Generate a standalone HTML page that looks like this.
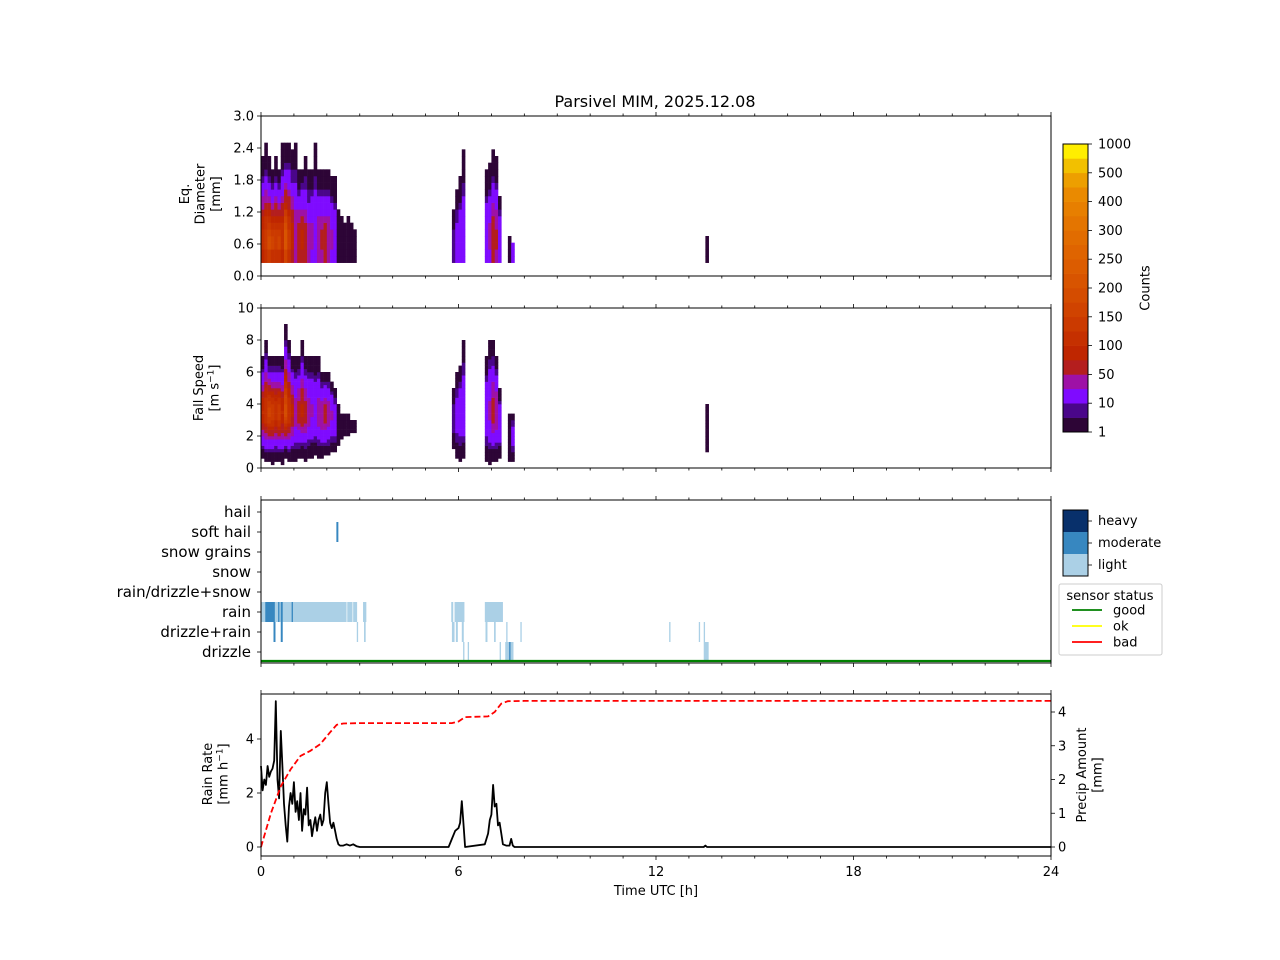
<!DOCTYPE html>
<html><head><meta charset="utf-8"><style>
html,body{margin:0;padding:0;background:#fff}
svg{display:block;font-family:"DejaVu Sans","Liberation Sans",sans-serif}
</style></head><body>
<svg id="fig" width="1280" height="960" viewBox="0 0 1280 960">
<rect width="1280" height="960" fill="#fff"/>
<text x="655" y="107" font-size="16" text-anchor="middle">Parsivel MIM, 2025.12.08</text>
</svg>
<script>
// ---------- data ----------
const colTimes = [0.0,0.1,0.2,0.3,0.4,0.5,0.6,0.7,0.8,0.9,1.0,1.1,1.2,1.3,1.4,1.5,1.6,1.7,1.8,1.9,2.0,2.1,2.2,2.3,2.4,2.5,2.6,2.7,2.8,5.8,5.9,6.0,6.1,6.8,6.9,7.0,7.1,7.2,7.5,7.6,13.5];
const colPeak  = [250,300,400,350,300,350,250,450,300,200,100,150,200,150,100,80,60,100,120,150,100,80,60,10,5,8,3,5,3,20,40,50,60,60,80,150,120,60,10,40,5];
const colMaxD  = [2.2,2.4,2.2,2.0,2.2,2.0,2.4,2.5,2.5,2.3,2.4,2.0,2.0,2.2,1.9,2.0,2.4,2.0,2.0,1.9,2.0,1.8,1.8,1.2,1.1,1.0,1.1,1.0,0.8,1.2,1.6,1.8,2.3,1.9,2.1,2.3,2.2,1.5,0.7,0.6,0.7];
const colMaxV  = [7,8,7,7,7,7,7,9,8,7,7,7,8,7,7,7,7,7,6,6,6,5.5,5,4,3.5,3.5,3.5,3,3,5,6,6.5,8,7,8,8,7,5,3.5,3.5,4];
const colMinV  = [0.6,0.4,0.5,0.3,0.5,0.4,0.3,0.6,0.4,0.5,0.5,0.6,0.7,0.5,0.6,0.7,0.8,0.6,0.7,0.8,0.8,1.0,1.0,1.5,1.8,2.0,2.0,2.2,2.3,1.2,0.6,0.4,0.6,0.5,0.3,0.4,0.5,0.6,0.5,0.4,1.0];
const cbLevels = [1,10,50,100,150,200,250,300,400,500,1000];
const categories = ['drizzle','drizzle+rain','rain','rain/drizzle+snow','snow','snow grains','soft hail','hail'];
// [category index, start h, end h, intensity 1=light 2=moderate 3=heavy]
const precipSegments = [
 [2,0.0,2.6,1],[2,2.62,2.78,1],[2,2.8,2.92,1],[2,3.1,3.2,1],
 [2,0.13,0.42,2],[2,0.52,0.56,2],[2,0.6,0.66,2],[2,0.93,0.97,2],
 [1,0.38,0.44,2],[1,0.6,0.66,2],[1,2.91,2.95,1],[1,3.13,3.18,1],
 [2,5.78,5.84,1],[2,5.88,6.18,1],[2,6.8,7.35,1],
 [1,5.8,5.88,1],[1,5.92,5.98,1],[1,6.1,6.16,1],[1,6.82,6.88,1],[1,7.08,7.13,1],[1,7.45,7.49,1],[1,7.88,7.92,1],[1,12.4,12.44,1],[1,13.3,13.34,1],[1,13.45,13.49,1],
 [0,6.14,6.18,1],[0,6.28,6.32,1],[0,7.25,7.29,1],[0,7.42,7.67,1],[0,7.54,7.58,2],[0,13.45,13.6,1],
 [6,2.29,2.35,2]
];
const rateTimes = [0,0.05,0.1,0.15,0.2,0.25,0.3,0.35,0.4,0.45,0.5,0.55,0.6,0.65,0.7,0.75,0.8,0.85,0.9,0.95,1.0,1.05,1.1,1.15,1.2,1.25,1.3,1.35,1.4,1.45,1.5,1.55,1.6,1.65,1.7,1.75,1.8,1.85,1.9,1.95,2.0,2.05,2.1,2.15,2.2,2.25,2.3,2.35,2.4,2.5,2.6,2.7,2.8,2.9,3.0,5.7,5.8,5.9,6.0,6.05,6.1,6.15,6.2,6.8,6.9,6.95,7.0,7.05,7.1,7.15,7.2,7.25,7.3,7.35,7.45,7.55,7.6,7.65,7.7,13.45,13.5,13.55,24];
const rateVals  = [3.0,2.1,2.5,2.3,3.0,2.6,2.8,2.9,3.2,5.4,2.5,1.8,4.3,3.0,1.6,0.8,0.2,1.5,2.0,1.6,2.4,1.3,1.7,1.0,2.0,0.6,1.4,1.2,2.2,0.8,1.0,0.4,0.8,1.1,0.6,1.0,1.2,0.8,1.0,2.0,2.4,1.6,0.9,0.7,0.9,0.6,0.3,0.1,0.05,0.05,0.1,0.05,0.1,0.03,0,0,0.3,0.6,0.7,0.9,1.7,0.9,0,0.1,0.5,1.0,1.2,2.3,1.5,1.6,0.8,0.9,0.5,0.1,0.05,0.05,0.3,0.05,0,0,0.05,0,0];
const amtTimes = [0,0.3,0.6,0.9,1.2,1.5,1.8,2.1,2.3,2.5,3.0,5.8,6.0,6.2,6.9,7.1,7.3,7.5,8,24];
const amtVals  = [0,1.0,1.8,2.3,2.7,2.85,3.05,3.4,3.62,3.66,3.67,3.67,3.72,3.85,3.87,4.0,4.25,4.32,4.33,4.33];

const bandColors = ['#2d0536','#4a068a','#7f0bff','#9e11a6','#b41e1e','#bf2600','#c53000','#cb3a00','#d04300','#d44c00','#d85400','#dc5c00','#df6400','#e16c00','#e47500','#e77f00','#ea8a00','#ed9f00','#f2c000','#ffee00'];
const intColors = {1:'#abd0e6',2:'#3787c0',3:'#08306b'};

// ---------- helpers ----------
const NS='http://www.w3.org/2000/svg';
const svg=document.getElementById('fig');
function mk(tag,attrs,parent){const e=document.createElementNS(NS,tag);for(const k in attrs)e.setAttribute(k,attrs[k]);(parent||svg).appendChild(e);return e;}
const X0=261,X1=1051;
const xs=h=>X0+(X1-X0)*h/24;
const P1={top:116,bot:276,min:0,max:3};
const P2={top:308,bot:468,min:0,max:10};
const P3={top:500,bot:663};
const P4={top:694,bot:856};
const y1=v=>P1.bot-(P1.bot-P1.top)*(v-P1.min)/(P1.max-P1.min);
const y2=v=>P2.bot-(P2.bot-P2.top)*(v-P2.min)/(P2.max-P2.min);
const y4=v=>847-27*v;
const y4r=v=>847-33.75*v;
const y3=i=>652-20*i;
function bandIndex(c){
  if(c<1)return -1;
  for(let i=0;i<cbLevels.length-1;i++){
    if(c<cbLevels[i+1]){const f=(c-cbLevels[i])/(cbLevels[i+1]-cbLevels[i]);return i*2+(f<0.5?0:1);}
  }
  return 19;
}
const colW=0.1;

// ---------- panel 1: diameter heatmap ----------
const g1=mk('g',{});


colTimes.forEach((t,i)=>{
  const pk=Math.max(colPeak[i]/2,2),md=colMaxD[i];
  const s=(md-0.55)/Math.sqrt(Math.log(pk));
  for(let d=0.25;d<md;d+=0.125){
    const dm=d+0.0625;
    const c=dm<0.55?pk*0.7:pk*Math.exp(-Math.pow((dm-0.55)/s,2));
    const b=bandIndex(Math.max(c,1));
    const r=mk('rect',{x:xs(t),y:y1(d+0.125),width:xs(t+colW)-xs(t)+0.3,height:y1(d)-y1(d+0.125)+0.3,fill:bandColors[b]},g1);
    
    
  }
});
// ---------- panel 2: fall speed heatmap ----------
const g2=mk('g',{});


colTimes.forEach((t,i)=>{
  const pk=Math.max(colPeak[i]/2.5,2),vmax=colMaxV[i],vmin=colMinV[i];
  const vc=Math.min(3.5,(vmax+vmin)/2);
  const L=Math.sqrt(Math.log(pk));
  const su=(vmax-vc)/L,sl=(vc-vmin)/L;
  for(let v=0;v<10;v+=0.2){
    const vm=v+0.1;
    if(vm>vmax||vm<vmin)continue;
    const s=vm>vc?su:sl;
    const c=pk*Math.exp(-Math.pow((vm-vc)/s,2));
    const b=bandIndex(Math.max(c,1));
    const r=mk('rect',{x:xs(t),y:y2(v+0.2),width:xs(t+colW)-xs(t)+0.3,height:y2(v)-y2(v+0.2)+0.3,fill:bandColors[b]},g2);
    
    
  }
});
// ---------- panel 3: precip type ----------
const g3=mk('g',{});


precipSegments.forEach(s=>{
  const r=mk('rect',{x:xs(s[1]),y:y3(s[0])-10,width:Math.max(xs(s[2])-xs(s[1]),1.2),height:20,fill:intColors[s[3]]},g3);
  
  
});
const st=mk('line',{x1:X0,x2:X1,y1:661,y2:661,stroke:'#008000','stroke-width':2.2});


categories.forEach((c,i)=>{
  mk('line',{x1:X0-4,x2:X0,y1:y3(i),y2:y3(i),stroke:'#000','stroke-width':0.8});
  const t=mk('text',{x:X0-10,y:y3(i)+5,'font-size':15,'text-anchor':'end'});t.textContent=c;
  
  
});
// ---------- panel 4: rain rate & amount ----------
let d='';rateTimes.forEach((t,i)=>{d+=(i?'L':'M')+xs(t).toFixed(1)+' '+y4(rateVals[i]).toFixed(1);});
const rl=mk('path',{d:d,fill:'none',stroke:'#000','stroke-width':1.8,'stroke-linejoin':'round'});


let d2='';amtTimes.forEach((t,i)=>{d2+=(i?'L':'M')+xs(t).toFixed(1)+' '+y4r(amtVals[i]).toFixed(1);});
const al=mk('path',{d:d2,fill:'none',stroke:'#ff0000','stroke-width':1.8,'stroke-dasharray':'6,3'});



// ---------- axes frames & ticks ----------
function frame(P,name){
  const r=mk('rect',{x:X0,y:P.top,width:X1-X0,height:P.bot-P.top,fill:'none',stroke:'#000','stroke-width':1});
  
  
  for(let h=0;h<=24;h++){
    const L=h%6===0?4:2.5;
    mk('line',{x1:xs(h),x2:xs(h),y1:P.bot,y2:P.bot+L,stroke:'#000','stroke-width':0.8});
    mk('line',{x1:xs(h),x2:xs(h),y1:P.top,y2:P.top-L,stroke:'#000','stroke-width':0.8});
  }
}
frame(P1,'diameter-axes');frame(P2,'fallspeed-axes');frame(P3,'precip-type-axes');frame(P4,'rain-rate-axes');
function yTicks(vals,fn,fmt,x,anchor,dir,name){
  vals.forEach(v=>{
    const y=fn(v);
    mk('line',{x1:x,x2:x+dir*4,y1:y,y2:y,stroke:'#000','stroke-width':0.8});
    const t=mk('text',{x:x+dir*7,y:y+4.5,'font-size':13,'text-anchor':anchor});t.textContent=fmt(v);
    
    
  });
}
yTicks([0,0.6,1.2,1.8,2.4,3.0],y1,v=>v.toFixed(1),X0,'end',-1,'diameter-tick-label');
yTicks([0,2,4,6,8,10],y2,v=>String(v),X0,'end',-1,'fallspeed-tick-label');
yTicks([0,2,4],y4,v=>String(v),X0,'end',-1,'rain-rate-tick-label');
yTicks([0,1,2,3,4],y4r,v=>String(v),X1,'start',1,'precip-amount-tick-label');
[0,6,12,18,24].forEach(h=>{
  const t=mk('text',{x:xs(h),y:876,'font-size':13,'text-anchor':'middle'});t.textContent=String(h);
  
  
});
function label(lines,x,y,rot,name){
  const t=mk('text',{'font-size':13,'text-anchor':'middle',transform:`translate(${x},${y}) rotate(${rot})`});
  
  
  lines.forEach((l,i)=>{const s=mk('tspan',{x:0,y:(i-(lines.length-1)/2)*15.5+4.5},t);s.innerHTML=l;});
}
label(['Eq.','Diameter','[mm]'],200,194,-90,'diameter-axis-title');
label(['Fall Speed','[m s<tspan dy="-5" font-size="9">−1</tspan><tspan dy="5">]</tspan>'],206,388,-90,'fallspeed-axis-title');
label(['Rain Rate','[mm h<tspan dy="-5" font-size="9">−1</tspan><tspan dy="5">]</tspan>'],215,774,-90,'rain-rate-axis-title');
label(['Precip Amount','[mm]'],1089,775,-90,'precip-amount-axis-title');
const xt=mk('text',{x:656,y:895,'font-size':13,'text-anchor':'middle'});xt.textContent='Time UTC [h]';



// ---------- colorbar ----------
const cb=mk('g',{});


const CBT=144,CBB=432,bh=(CBB-CBT)/20;
bandColors.forEach((c,i)=>{mk('rect',{x:1063,y:CBB-(i+1)*bh,width:25,height:bh+0.3,fill:c},cb);});
mk('rect',{x:1063,y:CBT,width:25,height:CBB-CBT,fill:'none',stroke:'#000','stroke-width':1},cb);
cbLevels.forEach((l,i)=>{
  const y=CBB-i*2*bh;
  mk('line',{x1:1088,x2:1092,y1:y,y2:y,stroke:'#000','stroke-width':0.8},cb);
  const t=mk('text',{x:1098,y:y+4.5,'font-size':13},cb);t.textContent=String(l);
  
  
});
label(['Counts'],1145,288,-90,'colorbar-title');

// ---------- intensity colorbar ----------
const ib=mk('g',{});


[['heavy',3],['moderate',2],['light',1]].forEach((e,i)=>{
  mk('rect',{x:1063,y:510+i*22,width:25,height:22.3,fill:intColors[e[1]]},ib);
  mk('line',{x1:1088,x2:1092,y1:521+i*22,y2:521+i*22,stroke:'#000','stroke-width':0.8},ib);
  const t=mk('text',{x:1098,y:525+i*22,'font-size':13},ib);t.textContent=e[0];
  
  
});
mk('rect',{x:1063,y:510,width:25,height:66,fill:'none',stroke:'#000','stroke-width':1},ib);

// ---------- legend ----------
const lg=mk('g',{});


mk('rect',{x:1059,y:584,width:103,height:71,rx:2,fill:'#fff',stroke:'#ccc','stroke-width':1},lg);
const lt=mk('text',{x:1110,y:600,'font-size':13,'text-anchor':'middle'},lg);lt.textContent='sensor status';
[['good','#008000'],['ok','#ffff00'],['bad','#ff0000']].forEach((e,i)=>{
  const y=610+i*16;
  mk('line',{x1:1072,x2:1102,y1:y,y2:y,stroke:e[1],'stroke-width':1.8},lg);
  const t=mk('text',{x:1113,y:y+4.5,'font-size':13},lg);t.textContent=e[0];
  
  
});
</script>
</body></html>
